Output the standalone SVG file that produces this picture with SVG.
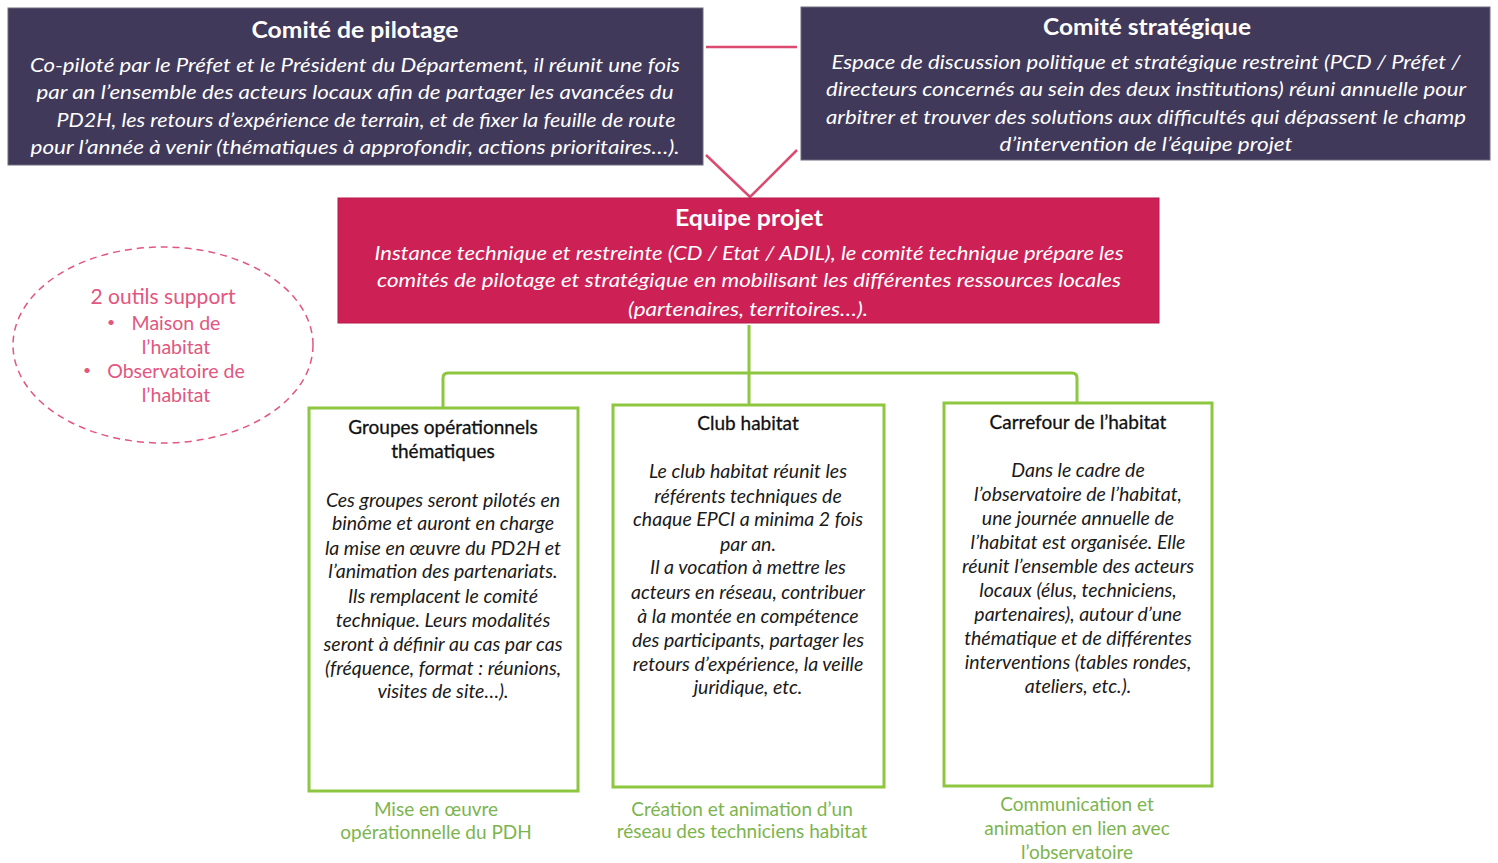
<svg xmlns="http://www.w3.org/2000/svg" width="1498" height="863" viewBox="0 0 1498 863">
  <style>
    .dark { fill: #41395a; stroke: #6e6a7a; stroke-width: 1; }
    .crimson { fill: #cd2156; stroke: #b51a4a; stroke-width: 1; }
    .greenbox { fill: #ffffff; stroke: #8dc63f; stroke-width: 3; }
    .link-pink { fill: none; stroke: #dc4a70; stroke-width: 2.5; }
    .link-green { fill: none; stroke: #8dc63f; stroke-width: 3; }
    .t { font-family: Lato, "Open Sans", sans-serif; text-anchor: middle; }
    .head { font-weight: bold; fill: #ffffff; font-size: 23px; }
    .body { font-style: italic; fill: #ffffff; font-size: 20px; }
    .ghead { fill: #111111; font-size: 19px; stroke: #111111; stroke-width: 0.3; }
    .gbody { fill: #1a1a1a; font-style: italic; font-size: 19.5px; }
    .cap { fill: #7cb44e; font-size: 19px; }
    .tool { fill: #e2567f; font-size: 19.5px; }
    .tool-title { fill: #e2567f; font-size: 21px; }
    .dot { fill: #e2567f; font-size: 14px; }
  </style>

  <!-- connectors -->
  <g id="connectors">
    <line class="link-pink" x1="706" y1="47" x2="797" y2="47"/>
    <polyline class="link-pink" points="706,155 750,197 797,150"/>
    <path class="link-green" d="M749,325 V373 M448,373 H1072 M443,408 V378 Q443,373 448,373 M1072,373 Q1077,373 1077,378 V403 M749,373 V405"/>
  </g>

  <!-- Comité de pilotage -->
  <g id="comite-pilotage">
    <rect class="dark" x="8" y="8" width="695" height="157"/>
    <text class="t head" x="355" y="38" textLength="207" lengthAdjust="spacingAndGlyphs">Comité de pilotage</text>
    <text class="t body" x="355" y="72" textLength="650" lengthAdjust="spacingAndGlyphs">Co-piloté par le Préfet et le Président du Département, il réunit une fois</text>
    <text class="t body" x="355" y="99" textLength="637" lengthAdjust="spacingAndGlyphs">par an l’ensemble des acteurs locaux afin de partager les avancées du</text>
    <text class="t body" x="366" y="127" textLength="619" lengthAdjust="spacingAndGlyphs">PD2H, les retours d’expérience de terrain, et de fixer la feuille de route</text>
    <text class="t body" x="355" y="154" textLength="649" lengthAdjust="spacingAndGlyphs">pour l’année à venir (thématiques à approfondir, actions prioritaires…).</text>
  </g>

  <!-- Comité stratégique -->
  <g id="comite-strategique">
    <rect class="dark" x="801" y="7" width="689" height="153"/>
    <text class="t head" x="1147" y="35" textLength="208" lengthAdjust="spacingAndGlyphs">Comité stratégique</text>
    <text class="t body" x="1146" y="69" textLength="629" lengthAdjust="spacingAndGlyphs">Espace de discussion politique et stratégique restreint (PCD / Préfet /</text>
    <text class="t body" x="1146" y="96" textLength="640" lengthAdjust="spacingAndGlyphs">directeurs concernés au sein des deux institutions) réuni annuelle pour</text>
    <text class="t body" x="1146" y="124" textLength="640" lengthAdjust="spacingAndGlyphs">arbitrer et trouver des solutions aux difficultés qui dépassent le champ</text>
    <text class="t body" x="1146" y="151" textLength="293" lengthAdjust="spacingAndGlyphs">d’intervention de l’équipe projet</text>
  </g>

  <!-- Equipe projet -->
  <g id="equipe-projet">
    <rect class="crimson" x="338" y="198" width="821" height="125"/>
    <text class="t head" x="749" y="226" textLength="148" lengthAdjust="spacingAndGlyphs">Equipe projet</text>
    <text class="t body" x="749" y="260" textLength="749" lengthAdjust="spacingAndGlyphs">Instance technique et restreinte (CD / Etat / ADIL), le comité technique prépare les</text>
    <text class="t body" x="749" y="287" textLength="744" lengthAdjust="spacingAndGlyphs">comités de pilotage et stratégique en mobilisant les différentes ressources locales</text>
    <text class="t body" x="748" y="316" textLength="240" lengthAdjust="spacingAndGlyphs">(partenaires, territoires…).</text>
  </g>

  <!-- Outils support -->
  <g id="outils-support">
    <ellipse cx="163" cy="345" rx="150" ry="98" fill="none" stroke="#e2567f" stroke-width="1.5" stroke-dasharray="7 5"/>
    <text class="t tool-title" x="163" y="304">2 outils support</text>
    <text class="t dot" x="111" y="327">•</text>
    <text class="t tool" x="176" y="330">Maison de</text>
    <text class="t tool" x="176" y="354">l’habitat</text>
    <text class="t dot" x="87" y="375">•</text>
    <text class="t tool" x="176" y="378">Observatoire de</text>
    <text class="t tool" x="176" y="402">l’habitat</text>
  </g>

  <!-- Groupes opérationnels thématiques -->
  <g id="groupes-operationnels">
    <rect class="greenbox" x="309" y="408" width="269" height="383"/>
    <text class="t ghead" x="443" y="434">Groupes opérationnels</text>
    <text class="t ghead" x="443" y="458">thématiques</text>
    <text class="t gbody" x="443" y="507">Ces groupes seront pilotés en</text>
    <text class="t gbody" x="443" y="530">binôme et auront en charge</text>
    <text class="t gbody" x="443" y="555">la mise en œuvre du PD2H et</text>
    <text class="t gbody" x="443" y="578">l’animation des partenariats.</text>
    <text class="t gbody" x="443" y="603">Ils remplacent le comité</text>
    <text class="t gbody" x="443" y="627">technique. Leurs modalités</text>
    <text class="t gbody" x="443" y="651">seront à définir au cas par cas</text>
    <text class="t gbody" x="443" y="675">(fréquence, format : réunions,</text>
    <text class="t gbody" x="443" y="698">visites de site…).</text>
    <text class="t cap" x="436" y="816">Mise en œuvre</text>
    <text class="t cap" x="436" y="839">opérationnelle du PDH</text>
  </g>

  <!-- Club habitat -->
  <g id="club-habitat">
    <rect class="greenbox" x="613" y="405" width="271" height="382"/>
    <text class="t ghead" x="748" y="430">Club habitat</text>
    <text class="t gbody" x="748" y="478">Le club habitat réunit les</text>
    <text class="t gbody" x="748" y="503">référents techniques de</text>
    <text class="t gbody" x="748" y="526">chaque EPCI a minima 2 fois</text>
    <text class="t gbody" x="748" y="551">par an.</text>
    <text class="t gbody" x="748" y="574">Il a vocation à mettre les</text>
    <text class="t gbody" x="748" y="599">acteurs en réseau, contribuer</text>
    <text class="t gbody" x="748" y="623">à la montée en compétence</text>
    <text class="t gbody" x="748" y="647">des participants, partager les</text>
    <text class="t gbody" x="748" y="671">retours d’expérience, la veille</text>
    <text class="t gbody" x="748" y="694">juridique, etc.</text>
    <text class="t cap" x="742" y="816">Création et animation d’un</text>
    <text class="t cap" x="742" y="838">réseau des techniciens habitat</text>
  </g>

  <!-- Carrefour de l'habitat -->
  <g id="carrefour-habitat">
    <rect class="greenbox" x="944" y="403" width="268" height="383"/>
    <text class="t ghead" x="1078" y="429">Carrefour de l’habitat</text>
    <text class="t gbody" x="1078" y="477">Dans le cadre de</text>
    <text class="t gbody" x="1078" y="501">l’observatoire de l’habitat,</text>
    <text class="t gbody" x="1078" y="525">une journée annuelle de</text>
    <text class="t gbody" x="1078" y="549">l’habitat est organisée. Elle</text>
    <text class="t gbody" x="1078" y="573">réunit l’ensemble des acteurs</text>
    <text class="t gbody" x="1078" y="597">locaux (élus, techniciens,</text>
    <text class="t gbody" x="1078" y="621">partenaires), autour d’une</text>
    <text class="t gbody" x="1078" y="645">thématique et de différentes</text>
    <text class="t gbody" x="1078" y="669">interventions (tables rondes,</text>
    <text class="t gbody" x="1078" y="693">ateliers, etc.).</text>
    <text class="t cap" x="1077" y="811">Communication et</text>
    <text class="t cap" x="1077" y="835">animation en lien avec</text>
    <text class="t cap" x="1077" y="859">l’observatoire</text>
  </g>
</svg>
